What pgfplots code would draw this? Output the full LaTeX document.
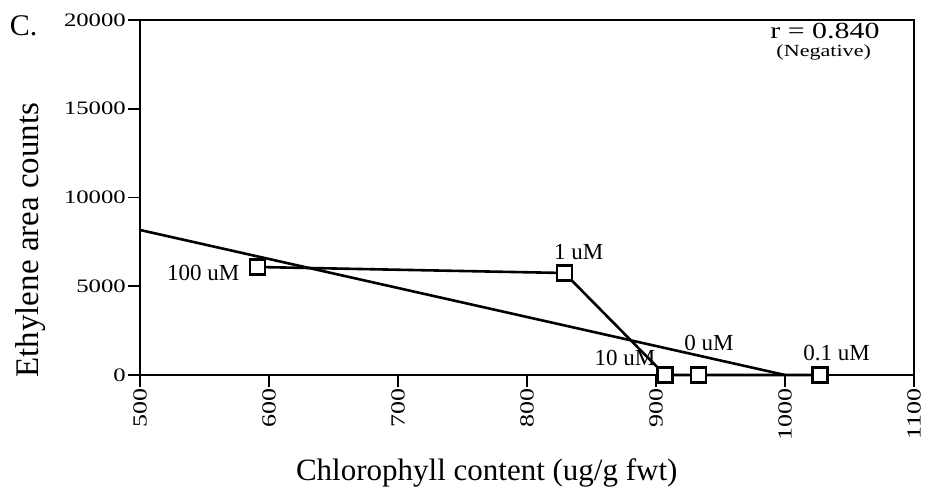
\documentclass[border=0pt]{standalone}
\usepackage{fontspec}
\setmainfont{Liberation Serif}
\newfontfamily\wfont{Liberation Serif}[FakeStretch=1.3]
\usepackage{pgfplots}
\pgfplotsset{compat=1.18}
\begin{document}
\begin{tikzpicture}
\useasboundingbox (-140bp,-115bp) rectangle (785bp,375bp);
\begin{axis}[
    at={(0,0)}, anchor=south west,
    scale only axis,
    width=774bp, height=355bp,
    xmin=500, xmax=1100,
    ymin=0, ymax=20000,
    xtick={500,600,...,1100},
    ytick={0,5000,10000,15000,20000},
    scaled y ticks=false,
    xtick pos=bottom, ytick pos=left,
    tick align=outside,
    major tick length=12bp,
    every tick/.style={black, line width=1.8bp},
    axis line style={line width=1.8bp},
    /pgf/number format/assume math mode=true,
    /pgf/number format/1000 sep={},
    xticklabel style={rotate=90, anchor=east, inner sep=1bp,
        font=\wfont\fontsize{20bp}{20bp}\selectfont},
    yticklabel style={inner sep=2bp,
        font=\wfont\fontsize{19bp}{19bp}\selectfont},
    xlabel={Chlorophyll content (ug/g fwt)},
    xlabel style={at={(axis description cs:0.448,-0.276)}, anchor=center,
        font=\fontsize{31bp}{31bp}\selectfont},
    ylabel={Ethylene area counts},
    ylabel style={at={(axis description cs:-0.141,0.38)}, anchor=center,
        font=\fontsize{33bp}{33bp}\selectfont},
    clip=false,
    ]
% regression line
\addplot[black, line width=2.6bp] coordinates {(500,8170) (1000,0)};
% measured points, in order of chlorophyll content
\addplot[black, line width=2.6bp, mark=square*, mark size=7.5bp,
    mark options={fill=white, line width=2.4bp, solid}]
    coordinates {(591,6085) (829,5746) (907,0) (933,0) (1027,0)};
% point labels
\begin{scope}[every node/.style={font=\fontsize{23bp}{23bp}\selectfont, inner sep=0pt}]
\node at (axis cs:549,5747) {100 uM};
\node at (axis cs:840,6930) {1 uM};
\node at (axis cs:876,958) {10 uM};
\node at (axis cs:941,1803) {0 uM};
\node at (axis cs:1040,1240) {0.1 uM};
\end{scope}
\node[font=\wfont\fontsize{23bp}{23bp}\selectfont, inner sep=0pt] at (axis cs:1031,19380) {r = 0.840};
\node[font=\wfont\fontsize{17bp}{17bp}\selectfont, inner sep=0pt] at (axis cs:1030,18200) {(Negative)};
\node[font=\fontsize{30bp}{30bp}\selectfont, inner sep=0pt] at (rel axis cs:-0.1505,0.983) {C.};
\end{axis}
\end{tikzpicture}
\end{document}
